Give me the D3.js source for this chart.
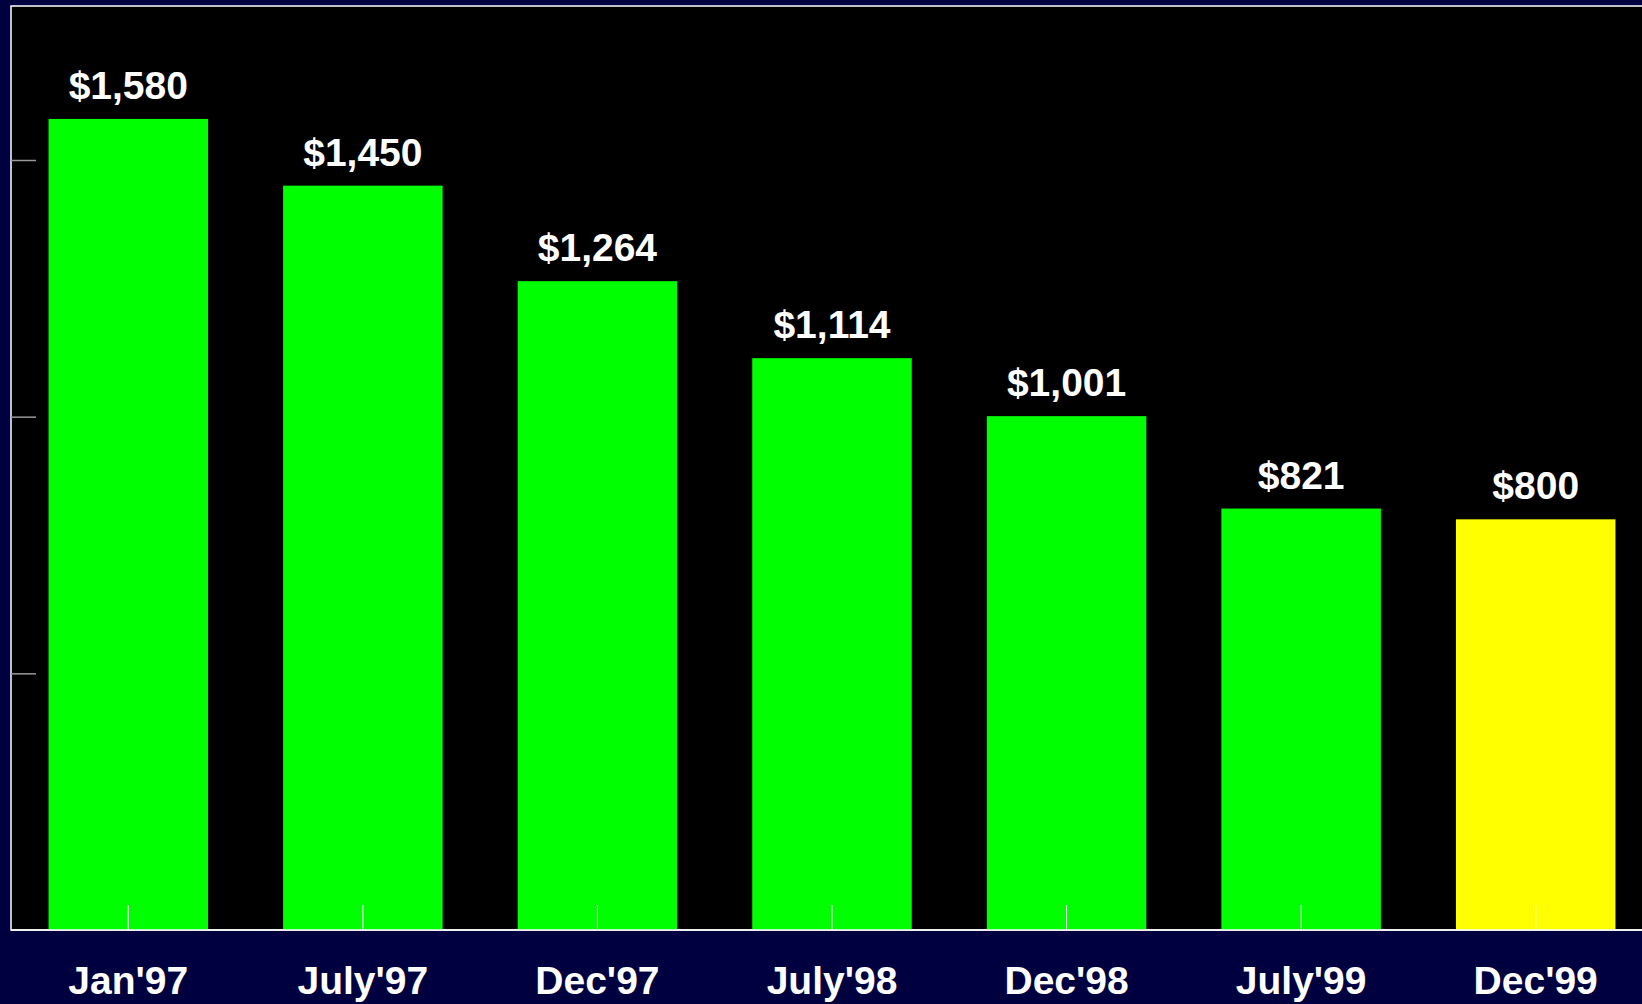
<!DOCTYPE html>
<html>
<head>
<meta charset="utf-8">
<script src="https://cdn.jsdelivr.net/npm/d3@7"></script>
<style>
  body { margin: 0; background: #000040; overflow: hidden; }
</style>
</head>
<body>
<script>
let categories = ["Jan'97", "July'97", "Dec'97", "July'98", "Dec'98", "July'99", "Dec'99"];
let values = [1580, 1450, 1264, 1114, 1001, 821, 800];
let valueLabels = ['$1,580', '$1,450', '$1,264', '$1,114', '$1,001', '$821', '$800'];
let barColors = ['#00ff00', '#00ff00', '#00ff00', '#00ff00', '#00ff00', '#00ff00', '#ffff00'];
let yTicks = [500, 1000, 1500];

let width = 1642, height = 1004;
let plotLeft = 11, plotTop = 6, plotRight = 1653, plotBottom = 930;

let svg = d3.select('body').append('svg').attr('width', width).attr('height', height);

svg.append('rect').attr('width', width).attr('height', height).attr('fill', '#000040');

let x = d3.scaleBand().domain(categories).range([plotLeft, plotRight]).paddingInner(0.32).paddingOuter(0.16);
let y = d3.scaleLinear().domain([0, 1800]).range([plotBottom, plotTop]);

// plot area
svg.append('rect')
  .attr('x', plotLeft).attr('y', plotTop)
  .attr('width', plotRight - plotLeft).attr('height', plotBottom - plotTop)
  .attr('fill', '#000000')
  .attr('stroke', '#ffffff').attr('stroke-width', 1.5);

let data = categories.map((c, i) => ({cat: c, v: values[i], label: valueLabels[i], color: barColors[i]}));

svg.selectAll('.bar').data(data).enter().append('rect')
  .attr('class', 'bar')
  .attr('x', d => x(d.cat))
  .attr('y', d => y(d.v))
  .attr('width', x.bandwidth())
  .attr('height', d => plotBottom - y(d.v))
  .attr('fill', d => d.color);

// y axis ticks (no labels)
let yAxis = svg.append('g').attr('transform', 'translate(' + plotLeft + ',0)')
  .call(d3.axisRight(y).tickValues(yTicks).tickSize(25).tickFormat(''));
yAxis.select('.domain').remove();
yAxis.selectAll('line').attr('stroke', '#999999').attr('stroke-width', 1.5);

// x axis
let xAxis = svg.append('g').attr('transform', 'translate(0,' + plotBottom + ')')
  .call(d3.axisTop(x).tickSize(25).tickFormat(''));
xAxis.select('.domain').remove();
xAxis.selectAll('line').attr('stroke', '#ffffff').attr('stroke-width', 1);

svg.append('line')
  .attr('x1', plotLeft).attr('x2', plotRight)
  .attr('y1', plotBottom).attr('y2', plotBottom)
  .attr('stroke', '#ffffff').attr('stroke-width', 1.5);

svg.selectAll('.cat').data(data).enter().append('text')
  .attr('class', 'cat')
  .attr('x', d => x(d.cat) + x.bandwidth() / 2)
  .attr('y', 994)
  .attr('text-anchor', 'middle')
  .attr('font-family', 'Liberation Sans, Arial, sans-serif')
  .attr('font-weight', 'bold')
  .attr('font-size', '39px')
  .attr('fill', '#ffffff')
  .text(d => d.cat);

svg.selectAll('.val').data(data).enter().append('text')
  .attr('class', 'val')
  .attr('x', d => x(d.cat) + x.bandwidth() / 2)
  .attr('y', d => y(d.v) - 20)
  .attr('text-anchor', 'middle')
  .attr('font-family', 'Liberation Sans, Arial, sans-serif')
  .attr('font-weight', 'bold')
  .attr('font-size', '39px')
  .attr('fill', '#ffffff')
  .text(d => d.label);
</script>
</body>
</html>
